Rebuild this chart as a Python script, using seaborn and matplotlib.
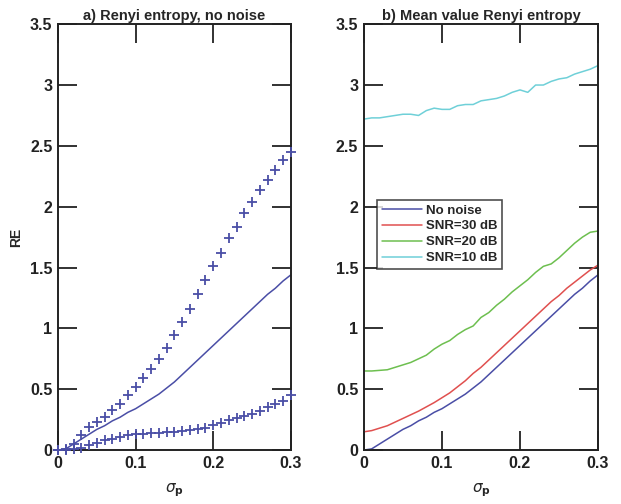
import numpy as np
import pandas as pd
import matplotlib
matplotlib.use("Agg")
import matplotlib.pyplot as plt
import seaborn as sns

sigma = [round(0.01 * i, 2) for i in range(31)]

# panel a
re_plus_upper = [0.0, 0.01, 0.05, 0.12, 0.19, 0.23, 0.27, 0.33, 0.38, 0.45, 0.52,
                 0.59, 0.67, 0.75, 0.84, 0.945, 1.05, 1.16, 1.28, 1.40, 1.51,
                 1.62, 1.74, 1.835, 1.95, 2.04, 2.14, 2.22, 2.30, 2.38, 2.45]
re_plus_lower = [0.0, 0.0, 0.005, 0.02, 0.04, 0.06, 0.08, 0.095, 0.105, 0.12, 0.13,
                 0.13, 0.14, 0.14, 0.145, 0.15, 0.155, 0.165, 0.17, 0.185, 0.205,
                 0.225, 0.245, 0.265, 0.28, 0.30, 0.32, 0.35, 0.375, 0.405, 0.45]

# panel b
no_noise = [0.0, 0.01, 0.05, 0.09, 0.13, 0.17, 0.20, 0.24, 0.27, 0.31, 0.34,
            0.38, 0.42, 0.46, 0.51, 0.56, 0.62, 0.68, 0.74, 0.80, 0.86,
            0.92, 0.98, 1.04, 1.10, 1.16, 1.22, 1.28, 1.33, 1.39, 1.44]
snr30 = [0.15, 0.16, 0.18, 0.20, 0.23, 0.26, 0.29, 0.32, 0.355, 0.39, 0.43,
         0.47, 0.52, 0.57, 0.63, 0.68, 0.74, 0.80, 0.86, 0.92, 0.98,
         1.04, 1.10, 1.16, 1.22, 1.27, 1.33, 1.38, 1.43, 1.48, 1.52]
snr20 = [0.65, 0.65, 0.655, 0.66, 0.68, 0.70, 0.72, 0.75, 0.78, 0.83, 0.87,
         0.90, 0.95, 0.99, 1.02, 1.09, 1.13, 1.19, 1.24, 1.30, 1.35,
         1.40, 1.46, 1.51, 1.53, 1.58, 1.64, 1.70, 1.75, 1.79, 1.80]
snr10 = [2.72, 2.73, 2.73, 2.74, 2.75, 2.76, 2.76, 2.75, 2.79, 2.81, 2.80,
         2.80, 2.83, 2.84, 2.84, 2.87, 2.88, 2.89, 2.91, 2.94, 2.96,
         2.94, 3.00, 3.00, 3.03, 3.05, 3.06, 3.09, 3.11, 3.13, 3.16]

series_names = ["No noise", "SNR=30 dB", "SNR=20 dB", "SNR=10 dB"]
series_colors = ["#4a4ea6", "#e0504f", "#6dbf4f", "#6fd0d8"]

titles = ["a) Renyi entropy, no noise", "b) Mean value Renyi entropy"]
yticks = [0, 0.5, 1, 1.5, 2, 2.5, 3, 3.5]
ytick_labels = ["0", "0.5", "1", "1.5", "2", "2.5", "3", "3.5"]
xticks = [0, 0.1, 0.2, 0.3]
xtick_labels = ["0", "0.1", "0.2", "0.3"]

sns.set_style("white")
plt.rcParams["font.family"] = ["Liberation Sans", "DejaVu Sans"]
plt.rcParams["mathtext.fontset"] = "dejavusans"

fig = plt.figure(figsize=(6.21, 5.04), dpi=100)
ax1 = fig.add_axes([0.0934, 0.107, 0.375, 0.845])
ax2 = fig.add_axes([0.586, 0.107, 0.377, 0.845])

blue = series_colors[0]
dfa = pd.DataFrame({"sigma": sigma, "up": re_plus_upper, "lo": re_plus_lower, "line": no_noise})
sns.lineplot(data=dfa, x="sigma", y="line", ax=ax1, color=blue, lw=1.1)
for col in ["up", "lo"]:
    sns.scatterplot(data=dfa, x="sigma", y=col, ax=ax1, color=blue, marker="+",
                    s=48, linewidth=1.3, clip_on=False, zorder=5)

dfb = pd.DataFrame({
    "sigma": sigma * 4,
    "RE": no_noise + snr30 + snr20 + snr10,
    "series": sum([[n] * len(sigma) for n in series_names], []),
})
sns.lineplot(data=dfb, x="sigma", y="RE", hue="series", hue_order=series_names,
             palette=series_colors, ax=ax2, lw=1.1)

for ax, t in zip([ax1, ax2], titles):
    ax.set_xlim(0, 0.3)
    ax.set_ylim(0, 3.5)
    ax.set_xticks(xticks)
    ax.set_xticklabels(xtick_labels)
    ax.set_yticks(yticks)
    ax.set_yticklabels(ytick_labels)
    ax.tick_params(direction="in", length=14, width=1.3, top=True, right=True,
                   left=True, bottom=True, labelsize=11.5, pad=4, colors="#222222")
    for lab in ax.get_xticklabels() + ax.get_yticklabels():
        lab.set_fontweight("bold")
    for s in ax.spines.values():
        s.set_linewidth(1.4)
        s.set_color("#222222")
        s.set_visible(True)
    ax.set_title(t, fontsize=10.5, fontweight="bold", pad=3)
    ax.set_xlabel(r"$\sigma_{\mathbf{p}}$", fontsize=11, labelpad=8)
    ax.set_ylabel("")

ax1.set_ylabel("RE", fontsize=10, fontweight="bold")
ax1.yaxis.set_label_coords(-0.15, 0.5)

leg = ax2.legend(loc="upper left", bbox_to_anchor=(0.058, 0.588), borderaxespad=0,
                 frameon=True, fancybox=False, edgecolor="#222222", fontsize=9.5,
                 handlelength=3.0, borderpad=0.35, labelspacing=0.28, handletextpad=0.3,
                 title=None)
leg.get_frame().set_linewidth(1.2)
for txt in leg.get_texts():
    txt.set_fontweight("bold")

fig.savefig("out.png", dpi=100)
